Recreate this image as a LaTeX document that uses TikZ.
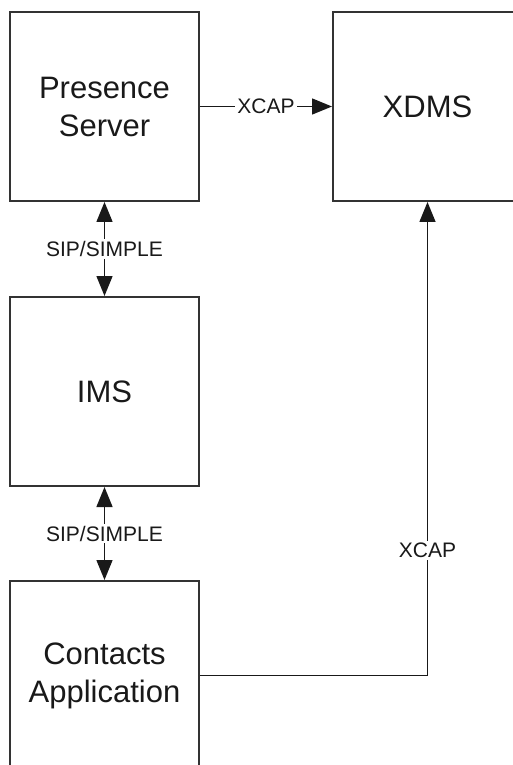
\documentclass[tikz,border=0pt]{standalone}
\usepackage{fontspec}
\setmainfont{Liberation Sans}
\usetikzlibrary{arrows.meta,positioning}
\begin{document}
\begin{tikzpicture}[
  block/.style={draw=black!80, line width=1pt, minimum width=94.5pt, minimum height=94.5pt,
                inner sep=0pt, align=center, font=\fontsize{15.5}{19}\selectfont, text=black!90},
  link/.style={draw=black!90, line width=0.75pt, -{Triangle[length=10pt,width=8pt]}},
  twoway/.style={link, {Triangle[length=10pt,width=8pt]}-{Triangle[length=10pt,width=8pt]}},
  tag/.style={fill=white, inner sep=1pt, font=\fontsize{10.5}{12}\selectfont, text=black!90},
  node distance=47pt
]
\useasboundingbox (-52.25pt,53.25pt) rectangle (204.25pt,-329.25pt);
\clip (-52.25pt,53.25pt) rectangle (204.25pt,-329.25pt);
\node[block] (ps) at (0,0) {Presence\\Server};
\node[block, right=66pt of ps] (xdms) {XDMS};
\node[block, below=of ps] (ims) {IMS};
\node[block, below=46.5pt of ims] (app) {Contacts\\Application};
\draw[link] (ps) -- node[tag] {XCAP} (xdms);
\draw[twoway] (ps) -- node[tag] {SIP/SIMPLE} (ims);
\draw[twoway] (ims) -- node[tag] {SIP/SIMPLE} (app);
\draw[link] (app.east) -| node[tag, pos=0.632] {XCAP} (xdms.south);
\end{tikzpicture}
\end{document}
